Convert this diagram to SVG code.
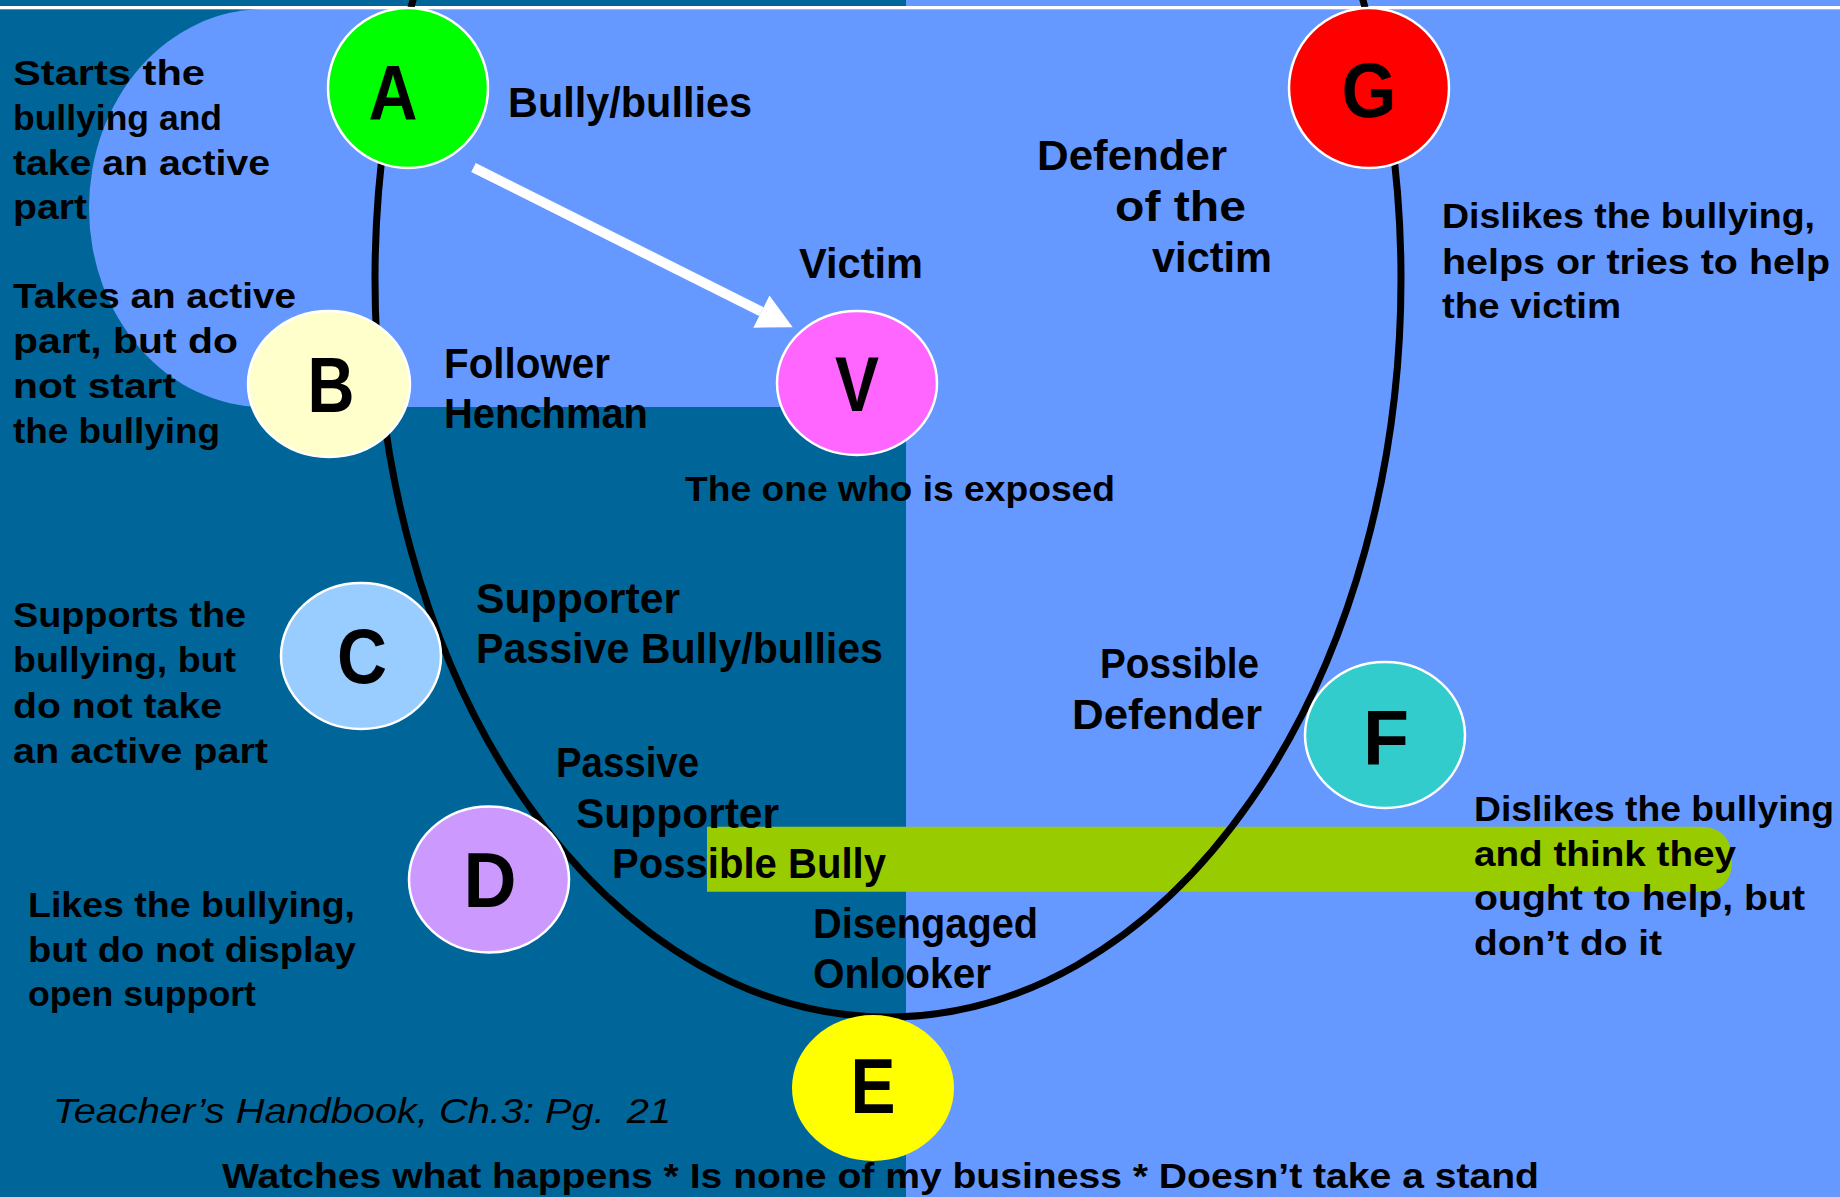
<svg xmlns="http://www.w3.org/2000/svg" width="1840" height="1197" viewBox="0 0 1840 1197">
<style>
text { font-family: "Liberation Sans", Arial, sans-serif; fill: #000; }
.lbl { font-size: 42px; font-weight: bold; }
.dsc { font-size: 35px; font-weight: bold; }
.ltr { font-size: 78px; font-weight: bold; text-anchor: middle; }
.cite { font-size: 35px; font-style: italic; }
.node { stroke: #ffffff; stroke-width: 2.5; }
.ring { fill: none; stroke: #000; stroke-width: 7; }
</style>
<defs>
<marker id="ah" viewBox="0 0 35 36" refX="0" refY="18" markerWidth="35" markerHeight="36" markerUnits="userSpaceOnUse" orient="auto">
<path d="M0 0 L35 18 L0 36 Z" fill="#fff"/>
</marker>
</defs>
<g id="background">
<rect x="0" y="0" width="1840" height="1197" fill="#006699"/>
<rect x="906" y="0" width="934" height="1197" fill="#6699FF"/>
<path d="M906 9 L264 9 A175 199 0 0 0 264 407 L906 407 Z" fill="#6699FF"/>
<rect x="0" y="6" width="1840" height="3.3" fill="#ffffff"/>
<path d="M707 826.7 H1700 C1722 826.7 1732 840 1732 860 C1732 880 1722 891.7 1705 891.7 H707 Z" fill="#99CC00"/>
</g>
<g id="ring">
<ellipse class="ring" cx="888" cy="279" rx="513" ry="738"/>
</g>
<g id="connectors">
<line x1="473.5" y1="167.5" x2="761.4" y2="311.6" stroke="#fff" stroke-width="10" marker-end="url(#ah)"/>
</g>
<g id="node-A">
<circle class="node" cx="408" cy="88" r="80" fill="#00FF00"/>
<text class="ltr" x="393" y="120" textLength="49" lengthAdjust="spacingAndGlyphs">A</text>
<text class="lbl" x="508" y="117" textLength="244" lengthAdjust="spacingAndGlyphs">Bully/bullies</text>
<text class="dsc" x="13" y="85" textLength="192" lengthAdjust="spacingAndGlyphs">Starts the</text>
<text class="dsc" x="13" y="130" textLength="209" lengthAdjust="spacingAndGlyphs">bullying and</text>
<text class="dsc" x="13" y="175" textLength="257" lengthAdjust="spacingAndGlyphs">take an active</text>
<text class="dsc" x="13" y="219" textLength="74" lengthAdjust="spacingAndGlyphs">part</text>
</g>
<g id="node-B">
<ellipse class="node" cx="329" cy="384" rx="81" ry="73" fill="#FFFFCC"/>
<text class="ltr" x="331" y="412" textLength="47" lengthAdjust="spacingAndGlyphs">B</text>
<text class="lbl" x="444" y="378" textLength="166" lengthAdjust="spacingAndGlyphs">Follower</text>
<text class="lbl" x="444" y="428" textLength="204" lengthAdjust="spacingAndGlyphs">Henchman</text>
<text class="dsc" x="13" y="308" textLength="283" lengthAdjust="spacingAndGlyphs">Takes an active</text>
<text class="dsc" x="13" y="353" textLength="225" lengthAdjust="spacingAndGlyphs">part, but do</text>
<text class="dsc" x="13" y="398" textLength="163" lengthAdjust="spacingAndGlyphs">not start</text>
<text class="dsc" x="13" y="443" textLength="207" lengthAdjust="spacingAndGlyphs">the bullying</text>
</g>
<g id="node-V">
<ellipse class="node" cx="857" cy="383" rx="80" ry="72" fill="#FF66FF"/>
<text class="ltr" x="857" y="411" textLength="44" lengthAdjust="spacingAndGlyphs">V</text>
<text class="lbl" x="799" y="278" textLength="124" lengthAdjust="spacingAndGlyphs">Victim</text>
<text class="dsc" x="685" y="501" textLength="430" lengthAdjust="spacingAndGlyphs">The one who is exposed</text>
</g>
<g id="node-G">
<circle class="node" cx="1369" cy="88" r="80" fill="#FF0000"/>
<text class="ltr" x="1369" y="117" textLength="55" lengthAdjust="spacingAndGlyphs">G</text>
<text class="lbl" x="1037" y="170" textLength="190" lengthAdjust="spacingAndGlyphs">Defender</text>
<text class="lbl" x="1115" y="221" textLength="131" lengthAdjust="spacingAndGlyphs">of the</text>
<text class="lbl" x="1152" y="272" textLength="120" lengthAdjust="spacingAndGlyphs">victim</text>
<text class="dsc" x="1442" y="228" textLength="373" lengthAdjust="spacingAndGlyphs">Dislikes the bullying,</text>
<text class="dsc" x="1442" y="274" textLength="388" lengthAdjust="spacingAndGlyphs">helps or tries to help</text>
<text class="dsc" x="1442" y="318" textLength="179" lengthAdjust="spacingAndGlyphs">the victim</text>
</g>
<g id="node-C">
<ellipse class="node" cx="361" cy="656" rx="80" ry="73" fill="#99CCFF"/>
<text class="ltr" x="362" y="683" textLength="50" lengthAdjust="spacingAndGlyphs">C</text>
<text class="lbl" x="476" y="613" textLength="204" lengthAdjust="spacingAndGlyphs">Supporter</text>
<text class="lbl" x="476" y="663" textLength="407" lengthAdjust="spacingAndGlyphs">Passive Bully/bullies</text>
<text class="dsc" x="13" y="627" textLength="233" lengthAdjust="spacingAndGlyphs">Supports the</text>
<text class="dsc" x="13" y="672" textLength="223" lengthAdjust="spacingAndGlyphs">bullying, but</text>
<text class="dsc" x="13" y="718" textLength="209" lengthAdjust="spacingAndGlyphs">do not take</text>
<text class="dsc" x="13" y="763" textLength="255" lengthAdjust="spacingAndGlyphs">an active part</text>
</g>
<g id="node-D">
<ellipse class="node" cx="489" cy="879.5" rx="80" ry="73" fill="#CC99FF"/>
<text class="ltr" x="490" y="907" textLength="53" lengthAdjust="spacingAndGlyphs">D</text>
<text class="lbl" x="556" y="777" textLength="143" lengthAdjust="spacingAndGlyphs">Passive</text>
<text class="lbl" x="576" y="828" textLength="203" lengthAdjust="spacingAndGlyphs">Supporter</text>
<text class="lbl" x="612" y="878" textLength="274" lengthAdjust="spacingAndGlyphs">Possible Bully</text>
<text class="dsc" x="28" y="917" textLength="327" lengthAdjust="spacingAndGlyphs">Likes the bullying,</text>
<text class="dsc" x="28" y="962" textLength="328" lengthAdjust="spacingAndGlyphs">but do not display</text>
<text class="dsc" x="28" y="1006" textLength="228" lengthAdjust="spacingAndGlyphs">open support</text>
</g>
<g id="node-F">
<ellipse class="node" cx="1385" cy="735" rx="80" ry="73" fill="#33CCCC"/>
<text class="ltr" x="1386" y="765" textLength="46" lengthAdjust="spacingAndGlyphs">F</text>
<text class="lbl" x="1100" y="678" textLength="159" lengthAdjust="spacingAndGlyphs">Possible</text>
<text class="lbl" x="1072" y="729" textLength="190" lengthAdjust="spacingAndGlyphs">Defender</text>
<text class="dsc" x="1474" y="821" textLength="360" lengthAdjust="spacingAndGlyphs">Dislikes the bullying</text>
<text class="dsc" x="1474" y="866" textLength="262" lengthAdjust="spacingAndGlyphs">and think they</text>
<text class="dsc" x="1474" y="910" textLength="331" lengthAdjust="spacingAndGlyphs">ought to help, but</text>
<text class="dsc" x="1474" y="955" textLength="188" lengthAdjust="spacingAndGlyphs">don’t do it</text>
</g>
<g id="node-E">
<ellipse cx="873" cy="1088" rx="81" ry="73" fill="#FFFF00"/>
<text class="ltr" x="873" y="1113" textLength="45" lengthAdjust="spacingAndGlyphs">E</text>
<text class="lbl" x="813" y="938" textLength="225" lengthAdjust="spacingAndGlyphs">Disengaged</text>
<text class="lbl" x="813" y="988" textLength="178" lengthAdjust="spacingAndGlyphs">Onlooker</text>
<text class="dsc" x="222" y="1188" font-size="36" textLength="1317" lengthAdjust="spacingAndGlyphs">Watches what happens * Is none of my business * Doesn’t take a stand</text>
</g>
<g id="citation">
<text class="cite" x="53" y="1123" xml:space="preserve" textLength="618" lengthAdjust="spacingAndGlyphs">Teacher’s Handbook, Ch.3: Pg.  21</text>
</g>
</svg>
